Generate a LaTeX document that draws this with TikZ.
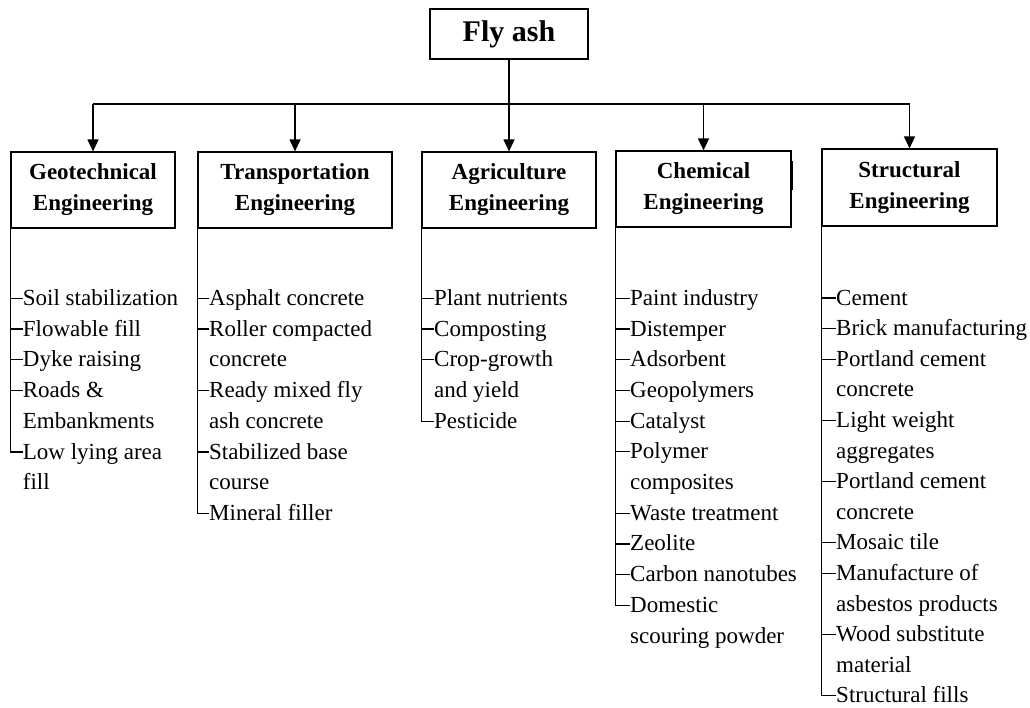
\documentclass[tikz,border=0pt]{standalone}
\usepackage{fontspec}
\setmainfont{Liberation Serif}
\usetikzlibrary{arrows.meta}
\begin{document}
\begin{tikzpicture}[x=1pt,y=-1pt,
  box/.style={draw, line width=1.2pt, inner sep=0pt, align=center, font=\fontsize{23}{31}\selectfont\bfseries},
  item/.style={anchor=west, inner sep=0pt, text height=14pt, text depth=0pt, font=\fontsize{23}{30}\selectfont},
  link/.style={line width=1.2pt},
  arr/.style={line width=1.2pt, -{Triangle[width=11pt,length=12pt]}}]
\useasboundingbox (0,0) rectangle (1030,707);

\node[box, minimum width=158pt, minimum height=50pt, font=\fontsize{30}{36}\selectfont\bfseries] (fly) at (509,34) {Fly ash};
\node[box, minimum width=164pt, minimum height=76pt] (geo) at (93,190) {Geotechnical\\Engineering};
\node[box, minimum width=194pt, minimum height=76pt] (tra) at (295,190) {Transportation\\Engineering};
\node[box, minimum width=174pt, minimum height=76pt] (agr) at (509,190) {Agriculture\\Engineering};
\node[box, minimum width=175pt, minimum height=76pt] (che) at (703.5,189) {Chemical\\Engineering};
\node[box, minimum width=175pt, minimum height=77pt] (str) at (909.5,187.5) {Structural\\Engineering};

\coordinate (bus) at (509,104);
\draw[link] (fly.south) -- (bus);
\draw[link] (geo.north |- bus) -- (str.north |- bus);
\foreach \b in {geo,tra,agr,che,str}{
  \draw[arr] (\b.north |- bus) -- (\b.north);
}
\draw[link] (792,161) -- (792,190);

\foreach \t/\k [count=\i from 0] in {Soil stabilization/1, Flowable fill/1, Dyke raising/1, Roads \&/1, Embankments/0, Low lying area/1, fill/0}{
  \node[item] (geo\i) at (22.7, 298.3+30.75*\i) {\t};
  \ifnum\k=1 \draw[link] (geo.south west) |- (geo\i.west); \fi
}
\foreach \t/\k [count=\i from 0] in {Asphalt concrete/1, Roller compacted/1, concrete/0, Ready mixed fly/1, ash concrete/0, Stabilized base/1, course/0, Mineral filler/1}{
  \node[item] (tra\i) at (209, 298.3+30.75*\i) {\t};
  \ifnum\k=1 \draw[link] (tra.south west) |- (tra\i.west); \fi
}
\foreach \t/\k [count=\i from 0] in {Plant nutrients/1, Composting/1, Crop-growth/1, and yield/0, Pesticide/1}{
  \node[item] (agr\i) at (434, 298.3+30.75*\i) {\t};
  \ifnum\k=1 \draw[link] (agr.south west) |- (agr\i.west); \fi
}
\foreach \t/\k [count=\i from 0] in {Paint industry/1, Distemper/1, Adsorbent/1, Geopolymers/1, Catalyst/1, Polymer/1, composites/0, Waste treatment/1, Zeolite/1, Carbon nanotubes/1, Domestic/1, scouring powder/0}{
  \node[item] (che\i) at (630, 298.3+30.7*\i) {\t};
  \ifnum\k=1 \draw[link] (che.south west) |- (che\i.west); \fi
}
\foreach \t/\k [count=\i from 0] in {Cement/1, Brick manufacturing/1, Portland cement/1, concrete/0, Light weight/1, aggregates/0, Portland cement/1, concrete/0, Mosaic tile/1, Manufacture of/1, asbestos products/0, Wood substitute/1, material/0, Structural fills/1}{
  \node[item] (str\i) at (836, 298.0+30.6*\i) {\t};
  \ifnum\k=1 \draw[link] (str.south west) |- (str\i.west); \fi
}
\end{tikzpicture}
\end{document}
